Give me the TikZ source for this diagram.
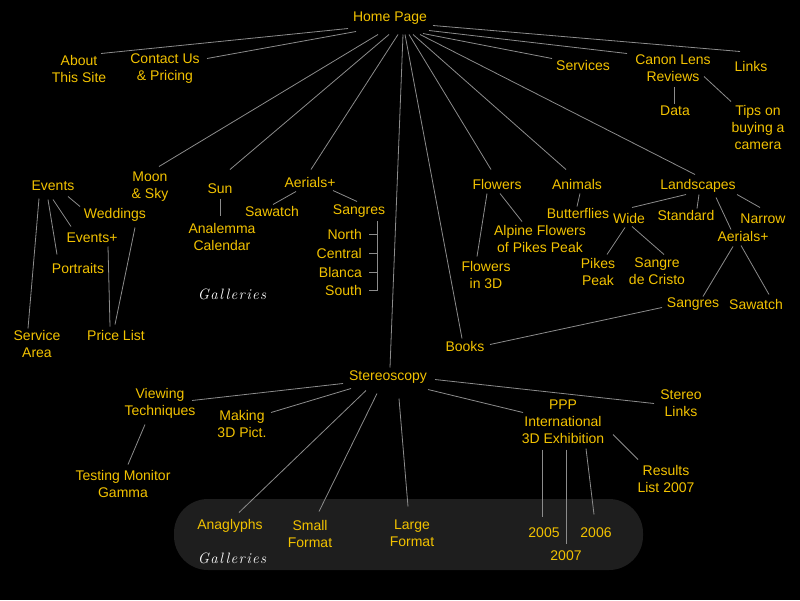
\documentclass[tikz,border=0pt]{standalone}
\usepackage{fontspec}
\setmainfont{Liberation Sans}
\newfontfamily\galfont[LetterSpace=9]{Latin Modern Roman}
\definecolor{gold}{RGB}{242,194,0}
\definecolor{wire}{RGB}{140,140,140}
\definecolor{panel}{RGB}{30,30,30}
\tikzset{
  lbl/.style={text=gold, align=center, inner sep=0pt, yshift=-1.5pt, font={\fontsize{14}{17}\selectfont}},
  conn/.style={draw=wire, line width=0.8pt},
  gal/.style={text=white, inner sep=0pt, font={\galfont\itshape\fontsize{15}{17}\selectfont}}
}
\begin{document}
\begin{tikzpicture}[x=1pt, y=-1pt]
  \useasboundingbox (0,0) rectangle (800,600);
  \fill[black] (0,0) rectangle (800,600);
  \fill[panel, rounded corners=34pt] (174,499) rectangle (643,570);

  % top level
  \node[lbl] (home) at (390,17) {Home Page};
  \node[lbl] (about) at (79,67) {About\\This Site};
  \node[lbl] (contact) at (165,67) {Contact Us\\\& Pricing};
  \node[lbl] (services) at (583,64) {Services};
  \node[lbl] (canon) at (673,67) {Canon Lens\\Reviews};
  \node[lbl] (links) at (751,65) {Links};
  \node[lbl] (data) at (675,109) {Data};
  \node[lbl] (tips) at (758,126) {Tips on\\buying a\\camera};

  % galleries, left
  \node[lbl] (events) at (53,184) {Events};
  \node[lbl] (moon) at (150,185) {Moon\\\& Sky};
  \node[lbl] (sun) at (220,187) {Sun};
  \node[lbl] (aerl) at (310,181) {Aerials+};
  \node[lbl] (sawl) at (272,210) {Sawatch};
  \node[lbl] (sangl) at (359,210) {Sangres};
  \node[lbl] (weddings) at (115,213) {Weddings};
  \node[lbl] (eventsp) at (92,236) {Events+};
  \node[lbl] (portraits) at (78,267) {Portraits};
  \node[lbl] (analemma) at (222,235) {Analemma\\Calendar};
  \node[lbl, anchor=east] (north) at (362,233) {North};
  \node[lbl, anchor=east] (central) at (362,252) {Central};
  \node[lbl, anchor=east] (blanca) at (362,271) {Blanca};
  \node[lbl, anchor=east] (south) at (362,289) {South};
  \node[gal] (gal1) at (232,294) {Galleries};
  \node[lbl] (service) at (37,342) {Service\\Area};
  \node[lbl] (price) at (116,334) {Price List};

  % galleries, right
  \node[lbl] (flowers) at (497,183) {Flowers};
  \node[lbl] (animals) at (577,183) {Animals};
  \node[lbl] (landscapes) at (698,184) {Landscapes};
  \node[lbl] (butterflies) at (578,212) {Butterflies};
  \node[lbl] (wide) at (629,217) {Wide};
  \node[lbl] (standard) at (686,214) {Standard};
  \node[lbl] (narrow) at (763,217) {Narrow};
  \node[lbl] (aerr) at (743,235) {Aerials+};
  \node[lbl] (alpine) at (540,237) {Alpine Flowers\\of Pikes Peak};
  \node[lbl] (flowers3d) at (486,273) {Flowers\\in 3D};
  \node[lbl] (pikes) at (598,270) {Pikes\\Peak};
  \node[lbl] (sangre) at (657,270) {Sangre\\de Cristo};
  \node[lbl] (sangr) at (693,303) {Sangres};
  \node[lbl] (sawr) at (756,303) {Sawatch};
  \node[lbl] (books) at (465,345) {Books};

  % stereoscopy
  \node[lbl] (stereo) at (388,376) {Stereoscopy};
  \node[lbl] (viewing) at (160,402) {Viewing\\Techniques};
  \node[lbl] (making) at (242,422) {Making\\3D Pict.};
  \node[lbl] (testing) at (123,482) {Testing Monitor\\Gamma};
  \node[lbl] (anaglyphs) at (230,524) {Anaglyphs};
  \node[lbl] (small) at (310,532) {Small\\Format};
  \node[lbl] (large) at (412,532) {Large\\Format};
  \node[gal] (gal2) at (232,558) {Galleries};
  \node[lbl] (links3d) at (681,402) {Stereo\\Links};
  \node[lbl] (ppp) at (563,420) {PPP\\International\\3D Exhibition};
  \node[lbl] (results) at (666,477) {Results\\List 2007};
  \node[lbl] (y2005) at (544,531) {2005};
  \node[lbl] (y2006) at (596,531) {2006};
  \node[lbl] (y2007) at (566,554) {2007};

  % lines from home page
  \draw[conn] ([shift={(-42,10)}]home.center) -- ([shift={(22,-15)}]about.center);
  \draw[conn] ([shift={(-34,13)}]home.center) -- ([shift={(42,-10)}]contact.center);
  \draw[conn] ([shift={(-12,16)}]home.center) -- ([shift={(9,-20)}]moon.center);
  \draw[conn] ([shift={(-1,16)}]home.center) -- ([shift={(10,-19)}]sun.center);
  \draw[conn] ([shift={(8,16)}]home.center) -- ([shift={(1,-13)}]aerl.center);
  \draw[conn] ([shift={(13,16)}]home.center) -- ([shift={(2,-10)}]stereo.center);
  \draw[conn] ([shift={(15,16)}]home.center) -- ([shift={(-3,-8)}]books.center);
  \draw[conn] ([shift={(19,16)}]home.center) -- ([shift={(-6,-15)}]flowers.center);
  \draw[conn] ([shift={(23,16)}]home.center) -- ([shift={(-11,-15)}]animals.center);
  \draw[conn] ([shift={(30,16)}]home.center) -- ([shift={(-3,-11)}]landscapes.center);
  \draw[conn] ([shift={(33,15)}]home.center) -- ([shift={(-31,-7)}]services.center);
  \draw[conn] ([shift={(39,12)}]home.center) -- ([shift={(-46,-15)}]canon.center);
  \draw[conn] ([shift={(43,7)}]home.center) -- ([shift={(-11,-15)}]links.center);
  \draw[conn] ([shift={(1,18)}]canon.center) -- ([shift={(-1,-7)}]data.center);
  \draw[conn] ([shift={(31,8)}]canon.center) -- ([shift={(-27,-26)}]tips.center);

  % left galleries lines
  \draw[conn] ([shift={(-14,13)}]events.center) -- ([shift={(-9,-15)}]service.center);
  \draw[conn] ([shift={(-5,14)}]events.center) -- ([shift={(-21,-14)}]portraits.center);
  \draw[conn] ([shift={(0,14)}]events.center) -- ([shift={(-21,-11)}]eventsp.center);
  \draw[conn] ([shift={(15,11)}]events.center) -- ([shift={(-35,-8)}]weddings.center);
  \draw[conn] ([shift={(16,9)}]eventsp.center) -- ([shift={(-6,-9)}]price.center);
  \draw[conn] ([shift={(20,13)}]weddings.center) -- ([shift={(-1,-11)}]price.center);
  \draw[conn] ([shift={(0,10)}]sun.center) -- ([shift={(-2,-21)}]analemma.center);
  \draw[conn] ([shift={(-14,9)}]aerl.center) -- ([shift={(1,-7)}]sawl.center);
  \draw[conn] ([shift={(23,8)}]aerl.center) -- ([shift={(-2,-10)}]sangl.center);
  \coordinate (brk) at (377,221);
  \draw[conn] (brk) -- (brk |- south.east);
  \foreach \n in {north,central,blanca,south}
    \draw[conn] ([xshift=7pt]\n.east) -- (brk |- \n.east);

  % right galleries lines
  \draw[conn] ([shift={(-10,9)}]flowers.center) -- ([shift={(-9,-18)}]flowers3d.center);
  \draw[conn] ([shift={(3,9)}]flowers.center) -- ([shift={(-18,-17)}]alpine.center);
  \draw[conn] ([shift={(3,9)}]animals.center) -- ([shift={(-1,-7)}]butterflies.center);
  \draw[conn] ([shift={(-12,9)}]landscapes.center) -- ([shift={(3,-11)}]wide.center);
  \draw[conn] ([shift={(1,9)}]landscapes.center) -- ([shift={(11,-7)}]standard.center);
  \draw[conn] ([shift={(39,9)}]landscapes.center) -- ([shift={(-3,-11)}]narrow.center);
  \draw[conn] ([shift={(18,12)}]landscapes.center) -- ([shift={(-12,-7)}]aerr.center);
  \draw[conn] ([shift={(-4,9)}]wide.center) -- ([shift={(9,-17)}]pikes.center);
  \draw[conn] ([shift={(3,8)}]wide.center) -- ([shift={(7,-17)}]sangre.center);
  \draw[conn] ([shift={(-10,10)}]aerr.center) -- ([shift={(10,-8)}]sangr.center);
  \draw[conn] ([shift={(-2,9)}]aerr.center) -- ([shift={(13,-10)}]sawr.center);
  \draw[conn] ([shift={(25,-2)}]books.center) -- ([shift={(-31,3)}]sangr.center);

  % stereoscopy lines
  \draw[conn] ([shift={(-45,6)}]stereo.center) -- ([shift={(32,-3)}]viewing.center);
  \draw[conn] ([shift={(-37,11)}]stereo.center) -- ([shift={(29,-11)}]making.center);
  \draw[conn] ([shift={(-22,13)}]stereo.center) -- ([shift={(9,-13)}]anaglyphs.center);
  \draw[conn] ([shift={(-11,16)}]stereo.center) -- ([shift={(9,-22)}]small.center);
  \draw[conn] ([shift={(11,21)}]stereo.center) -- ([shift={(-4,-27)}]large.center);
  \draw[conn] ([shift={(47,2)}]stereo.center) -- ([shift={(-27,0)}]links3d.center);
  \draw[conn] ([shift={(40,12)}]stereo.center) -- ([shift={(-40,-9)}]ppp.center);
  \draw[conn] ([shift={(-15,21)}]viewing.center) -- ([shift={(5,-19)}]testing.center);
  \draw[conn] ([shift={(50,13)}]ppp.center) -- ([shift={(-28,-19)}]results.center);
  \draw[conn] ([shift={(-21,28)}]ppp.center) -- ([shift={(-2,-16)}]y2005.center);
  \draw[conn] ([shift={(3,28)}]ppp.center) -- ([shift={(0,-12)}]y2007.center);
  \draw[conn] ([shift={(23,27)}]ppp.center) -- ([shift={(-2,-18)}]y2006.center);
\end{tikzpicture}
\end{document}
